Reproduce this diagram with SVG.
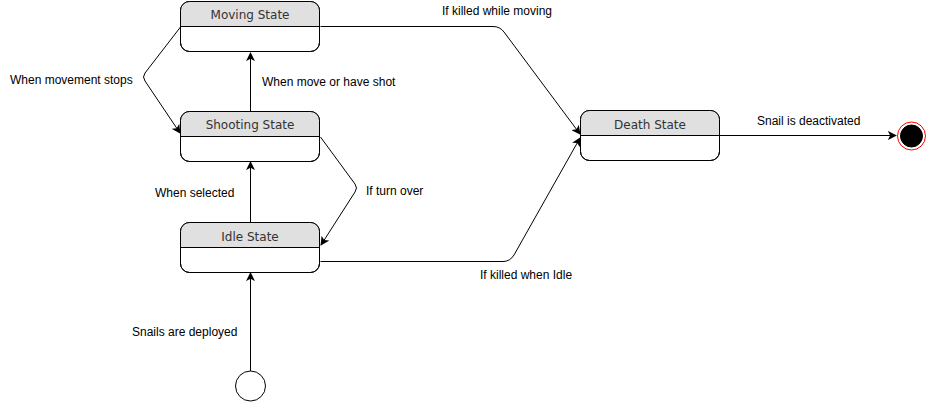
<svg xmlns="http://www.w3.org/2000/svg" width="926" height="402" viewBox="0 0 926 402">
<defs>
<style>
.box{fill:#fff;stroke:#000;stroke-width:1}
.hdr{fill:#e0e0e0;stroke:none}
.div{stroke:#000;stroke-width:1}
.title{font-family:"DejaVu Sans",Verdana,sans-serif;font-size:12px;fill:#333;text-anchor:middle}
.lbl{font-family:"Liberation Sans",Arial,sans-serif;font-size:12px;fill:#000}
.edge{fill:none;stroke:#000;stroke-width:1;marker-end:url(#arr)}
</style>
<marker id="arr" viewBox="0 0 10 10" refX="9" refY="5" markerWidth="9" markerHeight="9" markerUnits="userSpaceOnUse" orient="auto">
<path d="M0,0 L10,5 L0,10 L2.5,5 Z" fill="#000"/>
</marker>
<clipPath id="cm"><rect x="180.5" y="1.5" width="139" height="50" rx="9"/></clipPath>
<clipPath id="cs"><rect x="180.5" y="111.5" width="139" height="50" rx="9"/></clipPath>
<clipPath id="ci"><rect x="180.5" y="222.5" width="139" height="50" rx="9"/></clipPath>
<clipPath id="cd"><rect x="580.5" y="110.5" width="139" height="50" rx="9"/></clipPath>
</defs>
<rect width="926" height="402" fill="#fff"/>
<g id="connectors">
<path class="edge" d="M320.5,26.5 L493,26.5 Q500,26.5 504,32 L580,134"/>
<path class="edge" d="M320.5,261.5 L503,261.5 Q510,261.5 514,255 L580,138"/>
<path class="edge" d="M720,135.5 L896,135.5"/>
<path class="edge" d="M180.5,27 L145,73 Q142,77 145,81 L180,133"/>
<path class="edge" d="M250.5,111 L250.5,53"/>
<path class="edge" d="M250.5,222 L250.5,162"/>
<path class="edge" d="M320.5,137 L355,184 Q358,188 355,192 L321,245"/>
<path class="edge" d="M250.5,371 L250.5,273"/>
<text class="lbl" x="442" y="15">If killed while moving</text>
<text class="lbl" x="10" y="84">When movement stops</text>
<text class="lbl" x="262" y="86">When move or have shot</text>
<text class="lbl" x="757" y="125">Snail is deactivated</text>
<text class="lbl" x="155" y="197">When selected</text>
<text class="lbl" x="366" y="195">If turn over</text>
<text class="lbl" x="480" y="279">If killed when Idle</text>
<text class="lbl" x="132" y="336">Snails are deployed</text>
</g>
<g id="moving">
<rect class="box" x="180.5" y="1.5" width="139" height="50" rx="9"/>
<rect class="hdr" x="180.5" y="1.5" width="139" height="25" clip-path="url(#cm)"/>
<rect x="180.5" y="1.5" width="139" height="50" rx="9" fill="none" stroke="#000"/>
<line class="div" x1="180.5" y1="26.5" x2="319.5" y2="26.5"/>
<text class="title" x="250" y="19">Moving State</text>
</g>
<g id="shooting">
<rect class="box" x="180.5" y="111.5" width="139" height="50" rx="9"/>
<rect class="hdr" x="180.5" y="111.5" width="139" height="25" clip-path="url(#cs)"/>
<rect x="180.5" y="111.5" width="139" height="50" rx="9" fill="none" stroke="#000"/>
<line class="div" x1="180.5" y1="136.5" x2="319.5" y2="136.5"/>
<text class="title" x="250" y="129">Shooting State</text>
</g>
<g id="idle">
<rect class="box" x="180.5" y="222.5" width="139" height="50" rx="9"/>
<rect class="hdr" x="180.5" y="222.5" width="139" height="25" clip-path="url(#ci)"/>
<rect x="180.5" y="222.5" width="139" height="50" rx="9" fill="none" stroke="#000"/>
<line class="div" x1="180.5" y1="247.5" x2="319.5" y2="247.5"/>
<text class="title" x="250" y="241">Idle State</text>
</g>
<g id="death">
<rect class="box" x="580.5" y="110.5" width="139" height="50" rx="9"/>
<rect class="hdr" x="580.5" y="110.5" width="139" height="25" clip-path="url(#cd)"/>
<rect x="580.5" y="110.5" width="139" height="50" rx="9" fill="none" stroke="#000"/>
<line class="div" x1="580.5" y1="135.5" x2="719.5" y2="135.5"/>
<text class="title" x="650" y="129">Death State</text>
</g>
<g id="end">
<circle cx="911.5" cy="136" r="14" fill="#fff" stroke="#ff0000" stroke-width="1"/>
<circle cx="911.5" cy="136" r="11" fill="#000" stroke="#000"/>
</g>
<g id="start">
<circle cx="250.5" cy="386" r="15" fill="#fff" stroke="#000"/>
</g>
</svg>
